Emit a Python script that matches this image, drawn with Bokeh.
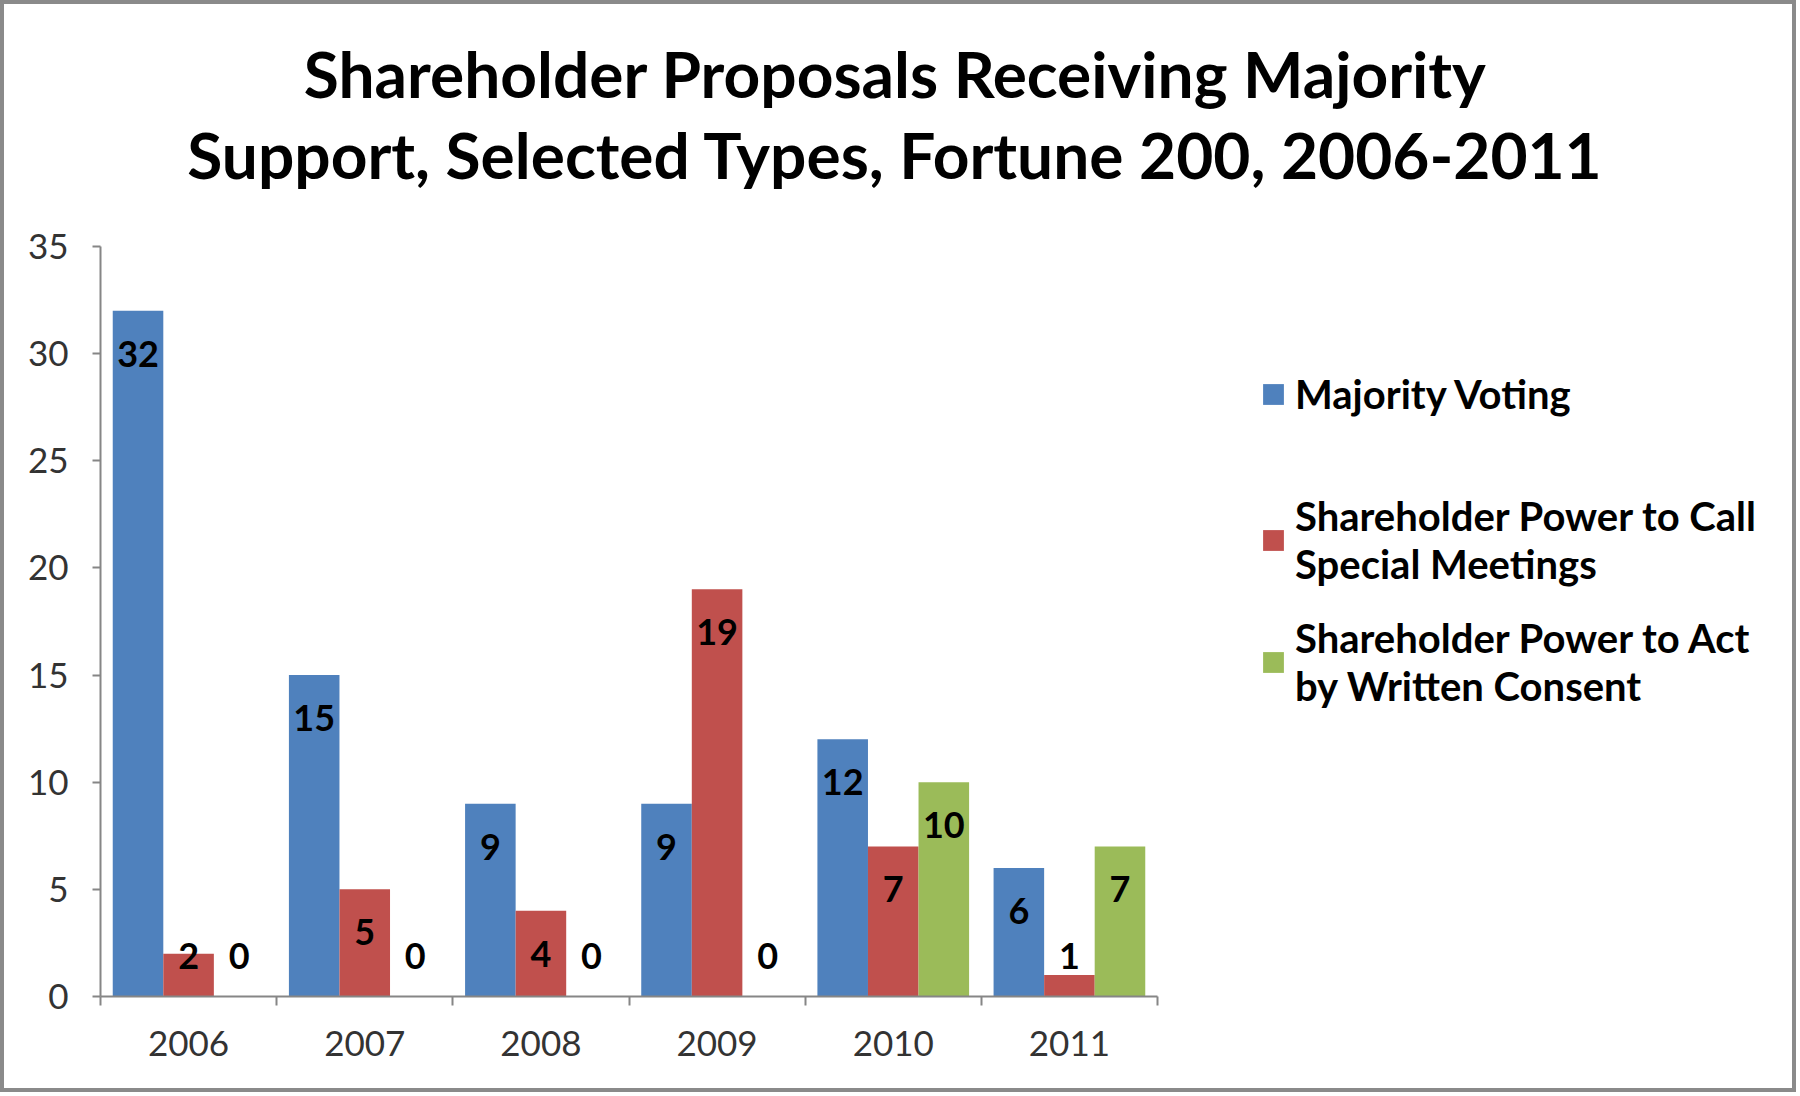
from bokeh.plotting import figure
from bokeh.models import Range1d, FixedTicker, Label, Legend, LegendItem, ColumnDataSource
from bokeh.core.properties import value
from bokeh.embed import file_html
from bokeh.resources import INLINE

# ---- data ----
years = ["2006", "2007", "2008", "2009", "2010", "2011"]
series_names = [
    "Majority Voting",
    "Shareholder Power to Call\nSpecial Meetings",
    "Shareholder Power to Act\nby Written Consent",
]
majority_voting = [32, 15, 9, 9, 12, 6]
special_meetings = [2, 5, 4, 19, 7, 1]
written_consent = [0, 0, 0, 0, 10, 7]
series_colors = ["#4F81BD", "#C0504D", "#9BBB59"]
y_ticks = [0, 5, 10, 15, 20, 25, 30, 35]
title_lines = [
    "Shareholder Proposals Receiving Majority",
    "Support, Selected Types, Fortune 200, 2006-2011",
]

FONT = "Lato"
W, H = 1796, 1092
n = len(years)
y_max = 35
bw = 0.287  # bar width in category units

# plot-area placement in pixels (axes drawn inside a full-canvas frame)
AX_L, AX_R, AX_T, AX_B = 100, 1157, 246, 996
sx = (AX_R - AX_L) / n
sy = (AX_B - AX_T) / y_max
x_lo = -AX_L / sx
x_hi = n + (W - AX_R) / sx
y_lo = -(H - AX_B) / sy
y_hi = y_max + AX_T / sy


def px_to_x(px):
    return x_lo + px / sx


def px_to_y(py):
    return y_hi - py / sy


p = figure(width=W, height=H, output_backend="svg", toolbar_location=None,
           x_range=Range1d(x_lo, x_hi), y_range=Range1d(y_lo, y_hi),
           min_border=0, min_border_left=0, min_border_right=0,
           min_border_top=0, min_border_bottom=0)
p.title.visible = False
p.background_fill_color = "white"
p.border_fill_color = "white"
p.outline_line_color = "#8a8a8a"
p.outline_line_width = 7
p.xgrid.grid_line_color = None
p.ygrid.grid_line_color = None

all_series = [majority_voting, special_meetings, written_consent]
renderers = []
for k, vals in enumerate(all_series):
    xs = [i + 0.5 + (k - 1) * bw for i in range(n)]
    label_y = [max(v - 2.0, 1.87) for v in vals]
    src = ColumnDataSource(dict(x=xs, top=vals, ly=label_y, txt=[str(v) for v in vals]))
    r = p.vbar(x="x", top="top", bottom=0, width=bw, source=src,
               fill_color=series_colors[k], line_color=None)
    renderers.append(r)
    p.text(x="x", y="ly", text="txt", source=src, text_align="center", text_baseline="middle",
           text_font=value(FONT), text_font_style="bold", text_font_size="36px", text_color="black")

# axes
axis_grey = "#868686"
p.xaxis.fixed_location = 0
p.yaxis.fixed_location = 0
p.xaxis.bounds = (0, n)
p.yaxis.bounds = (0, y_max)

p.xaxis.ticker = FixedTicker(ticks=[i + 0.5 for i in range(n)], minor_ticks=list(range(n + 1)))
p.xaxis.major_label_overrides = {i + 0.5: years[i] for i in range(n)}
p.xaxis.major_tick_line_color = None
p.xaxis.major_tick_out = 0
p.xaxis.major_tick_in = 0
p.xaxis.minor_tick_out = 9
p.xaxis.minor_tick_in = 0
p.xaxis.minor_tick_line_color = axis_grey
p.xaxis.minor_tick_line_width = 2
p.xaxis.major_label_standoff = 25

p.yaxis.ticker = FixedTicker(ticks=y_ticks)
p.yaxis.major_tick_out = 8
p.yaxis.major_tick_in = 0
p.yaxis.minor_tick_line_color = None
p.yaxis.major_tick_line_color = axis_grey
p.yaxis.major_tick_line_width = 2
p.yaxis.major_label_standoff = 24

for ax in (p.xaxis, p.yaxis):
    ax.axis_line_color = axis_grey
    ax.axis_line_width = 2
    ax.major_label_text_font = FONT
    ax.major_label_text_font_size = "35px"
    ax.major_label_text_color = "#333333"

# title
for line, ty in zip(title_lines, [73, 154]):
    p.add_layout(Label(x=px_to_x(895), y=px_to_y(ty), text=line,
                       text_align="center", text_baseline="middle", text_font=FONT,
                       text_font_style="bold", text_font_size="64px", text_color="black"))

# legends (one per entry, to match the reference's uneven spacing)
leg_locs = [(1260, H - 418), (1260, H - 588), (1260, H - 710)]
for k in range(3):
    leg = Legend(items=[LegendItem(label=series_names[k], renderers=[renderers[k]])],
                 location=leg_locs[k], orientation="vertical",
                 glyph_width=26, glyph_height=26, label_standoff=9, padding=0, margin=0,
                 border_line_color=None, background_fill_alpha=0,
                 label_text_font=FONT, label_text_font_style="bold",
                 label_text_font_size="40px", label_text_color="black")
    p.add_layout(leg)

open("out.html", "w").write(file_html(p, INLINE))
